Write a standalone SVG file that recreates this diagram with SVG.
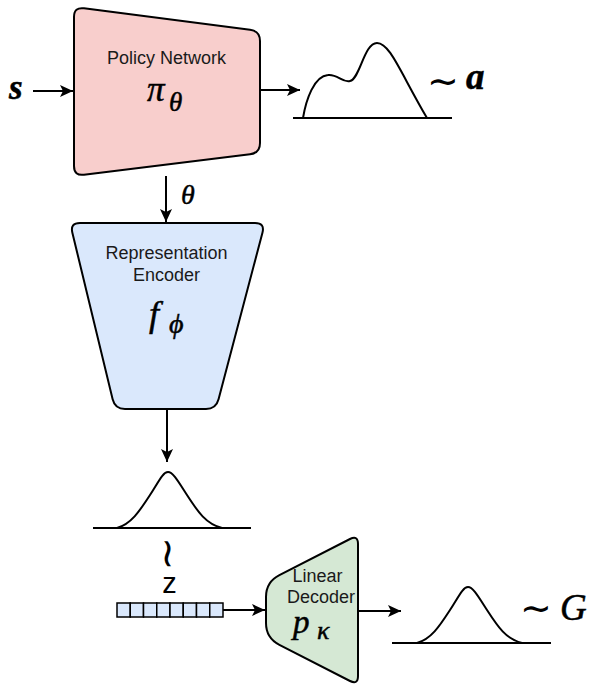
<svg xmlns="http://www.w3.org/2000/svg" width="589" height="687" viewBox="0 0 589 687">
<style>
.shape{stroke:#000;stroke-width:2;stroke-linejoin:round}
.line{stroke:#000;stroke-width:2;fill:none}
.lbl{font-family:"Liberation Sans",Arial,sans-serif;font-size:18px;fill:#1a1a1a;text-anchor:middle}
.math{font-family:"Liberation Serif","DejaVu Serif",serif;font-style:italic;fill:#000;stroke:#000;stroke-width:0.5}
.sim{font-family:"DejaVu Sans",sans-serif;fill:#000}
</style>
<defs>
<marker id="arr" markerUnits="userSpaceOnUse" markerWidth="14" markerHeight="12" refX="13" refY="6" orient="auto">
<path d="M0,0 L13,6 L0,12 L3,6 Z" fill="#000"/>
</marker>
<path id="bell" d="M0,0 C14,-4 22,-16 33,-33 C42,-47 46,-56 51,-56 C56,-56 61,-47 70,-33 C81,-16 89,-4 105,0" fill="none" stroke="#000" stroke-width="2"/>
</defs>

<g id="connectors">
<line class="line" x1="33" y1="91" x2="73" y2="91" marker-end="url(#arr)"/>
<line class="line" x1="260" y1="90" x2="300" y2="90" marker-end="url(#arr)"/>
<line class="line" x1="166" y1="176" x2="166" y2="222" marker-end="url(#arr)"/>
<line class="line" x1="167" y1="409" x2="167" y2="462" marker-end="url(#arr)"/>
<line class="line" x1="223" y1="610" x2="265" y2="610" marker-end="url(#arr)"/>
<line class="line" x1="358" y1="611" x2="401" y2="611" marker-end="url(#arr)"/>
</g>

<g id="state-input">
<text class="math" x="9" y="99" font-size="35" font-weight="bold">s</text>
</g>

<g id="policy-network">
<path class="shape" fill="#f8cecc" d="M74,17 Q74,7 84,8.3 L250,29.7 Q260,31 260,41 L260,143 Q260,153 250,154.3 L84,174.7 Q74,176 74,166 Z"/>
<text class="lbl" x="166.5" y="64">Policy Network</text>
<text class="math" x="147" y="101" font-size="35">π</text>
<text class="math" x="169" y="111" font-size="27">θ</text>
</g>

<g id="action-distribution">
<line class="line" x1="293" y1="118" x2="452" y2="118"/>
<path class="line" d="M303,118 C306,100 314,76 328,75 C338,74 342,83 350,81 C360,79 364,43 377,43 C390,43 400,72 427,118"/>
<text class="sim" x="427" y="94" font-size="38">∼</text>
<text class="math" x="466" y="89" font-size="37" font-weight="bold">a</text>
</g>

<g id="theta-label">
<text class="math" x="181" y="204" font-size="28">θ</text>
</g>

<g id="representation-encoder">
<path class="shape" fill="#dae8fc" d="M80,223 L255,223 Q265,223 262.45,232.7 L218.55,399.3 Q216,409 206,409 L125,409 Q115,409 112.64,399.3 L72.36,232.7 Q70,223 80,223 Z"/>
<text class="lbl" x="166.5" y="259">Representation</text>
<text class="lbl" x="166.5" y="281">Encoder</text>
<text class="math" x="149" y="326" font-size="36">f</text>
<text class="math" x="169" y="333" font-size="28">ϕ</text>
</g>

<g id="latent-distribution">
<line class="line" x1="93" y1="528" x2="251" y2="528"/>
<use href="#bell" x="117" y="528"/>
<text class="sim" x="0" y="0" font-size="40" transform="translate(155,537) rotate(90)">∼</text>
<text x="169.5" y="593" font-family="Liberation Sans,Arial,sans-serif" font-size="29" text-anchor="middle" fill="#000">z</text>
</g>

<g id="latent-vector" fill="#dae8fc" stroke="#000" stroke-width="1.5">
<rect x="117" y="603" width="13.25" height="14"/>
<rect x="130.25" y="603" width="13.25" height="14"/>
<rect x="143.5" y="603" width="13.25" height="14"/>
<rect x="156.75" y="603" width="13.25" height="14"/>
<rect x="170" y="603" width="13.25" height="14"/>
<rect x="183.25" y="603" width="13.25" height="14"/>
<rect x="196.5" y="603" width="13.25" height="14"/>
<rect x="209.75" y="603" width="13.25" height="14"/>
</g>

<g id="linear-decoder">
<path class="shape" fill="#d5e8d4" d="M266,597 Q266,582 279.4,575.2 L350,539 Q358,535 358,544 L358,676 Q358,685 350,681 L279.4,644.8 Q266,638 266,623 Z"/>
<text class="lbl" x="317.5" y="582">Linear</text>
<text class="lbl" x="321" y="603">Decoder</text>
<text class="math" x="293" y="633" font-size="33">p</text>
<text class="math" x="317" y="639" font-size="26">κ</text>
</g>

<g id="return-distribution">
<line class="line" x1="392" y1="643" x2="551" y2="643"/>
<use href="#bell" x="417" y="643"/>
<text class="sim" x="520" y="621" font-size="38">∼</text>
<text class="math" x="560" y="620" font-size="37">G</text>
</g>
</svg>
